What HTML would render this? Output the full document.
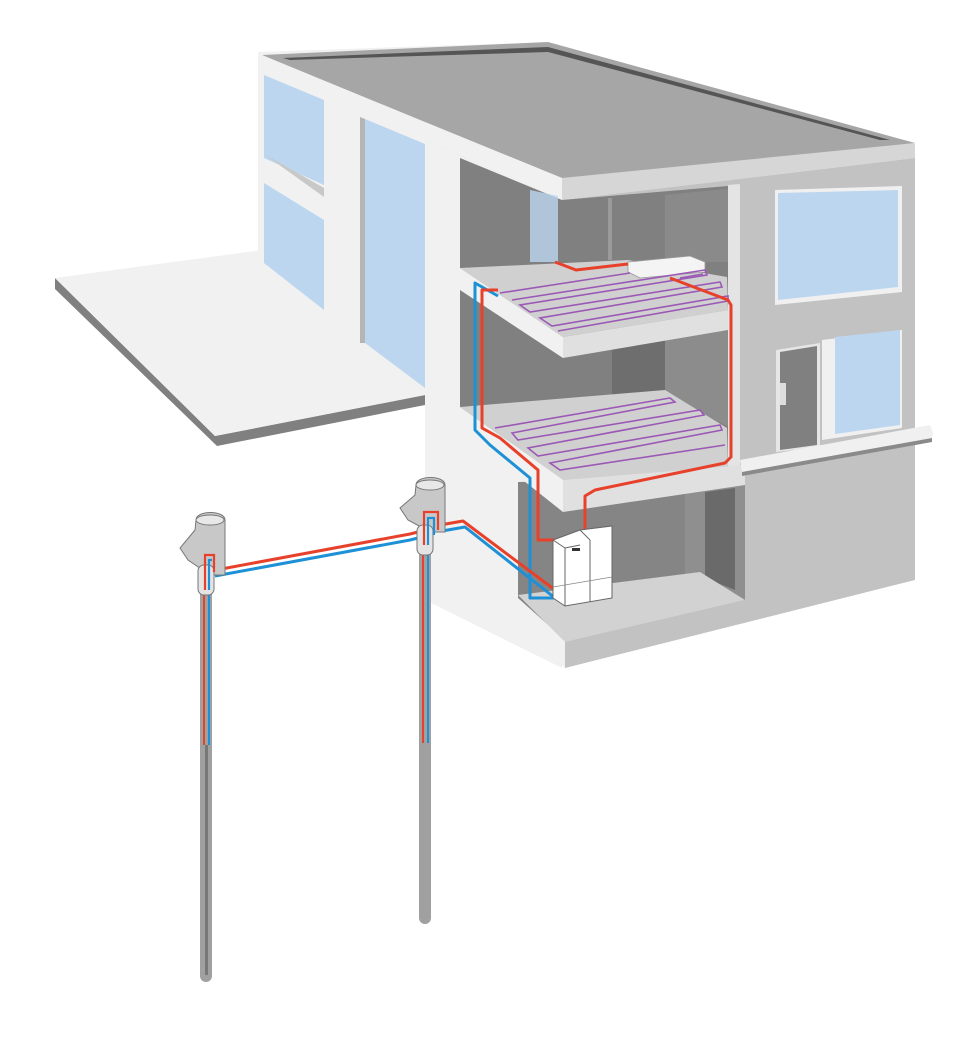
<!DOCTYPE html>
<html><head><meta charset="utf-8"><style>html,body{margin:0;padding:0;background:#fff}svg{display:block}</style></head>
<body>
<svg width="978" height="1056" viewBox="0 0 978 1056" xmlns="http://www.w3.org/2000/svg">
<!-- terrace -->
<polygon points="55,278 55,289 217,446 425,405 425,395 215,436" fill="#808080"/>
<polygon points="55,278 262,250 425,360 425,395 215,436" fill="#f1f1f1"/>
<!-- left facade -->
<polygon points="258,52 548,42 562,178 562,668 425,600 425,395 360,345 258,262" fill="#f1f1f1"/>
<polygon points="264,75 324,100 324,185 264,158" fill="#bcd6f0"/>
<polygon points="264,154 324,188 324,197" fill="#c8c8c8"/>
<polygon points="264,183 324,220 324,310 264,263" fill="#bcd6f0"/>
<polygon points="360,117 365,119 365,343 360,343" fill="#b5b5b5"/>
<polygon points="365,119 425,144 425,388 365,343" fill="#bcd6f0"/>
<!-- roof -->
<polygon points="262,55 548,42 915,143 562,185" fill="#a6a6a6"/>
<polygon points="283,58 548,47 890,140 880,140 548,52 290,60" fill="#555"/>
<polygon points="262,55 425,122 425,140 262,72" fill="#f1f1f1"/>
<polygon points="425,122 562,178 915,143 915,158 562,200 425,140" fill="#d6d6d6"/>
<polygon points="425,122 562,178 562,200 425,140" fill="#f1f1f1"/>
<!-- right facade -->
<polygon points="562,200 915,158 915,580 565,668" fill="#c2c2c2"/>
<!-- interior cut upper floors -->
<polygon points="460,158 562,200 740,185 740,470 460,430" fill="#808080"/>
<polygon points="530,190 558,196 558,262 530,262" fill="#bcd6f0" opacity="0.8"/>
<polygon points="608,198 612,198 612,260 608,260" fill="#9a9a9a"/>
<polygon points="665,195 735,188 735,262 665,262" fill="#8a8a8a"/>
<polygon points="612,340 665,340 665,395 612,395" fill="#6e6e6e"/>
<polygon points="665,335 735,330 735,430 665,395" fill="#8c8c8c"/>
<!-- ground floor room -->
<polygon points="518,482 745,478 745,600 565,640 518,598" fill="#858585"/>
<polygon points="685,488 745,480 745,600 700,575 685,575" fill="#8f8f8f"/>
<polygon points="705,492 735,488 735,590 705,578" fill="#6a6a6a"/>
<polygon points="518,595 700,572 745,600 565,642" fill="#d2d2d2"/>
<polygon points="518,600 565,642 565,668 518,618" fill="#f1f1f1"/>
<polygon points="565,642 745,600 745,612 565,668" fill="#c2c2c2"/>
<!-- columns on right face -->
<polygon points="728,185 740,184 740,470 728,472" fill="#e4e4e4"/>
<!-- upper slab -->
<polygon points="460,268 628,260 727,277 728,310 563,337" fill="#d0d0d0"/>
<polygon points="563,337 728,310 728,330 563,358" fill="#e0e0e0"/>
<polygon points="460,268 563,337 563,358 460,290" fill="#f1f1f1"/>
<!-- lower slab -->
<polygon points="460,407 665,390 727,428 728,467 563,480" fill="#d0d0d0"/>
<polygon points="563,480 745,465 745,485 563,512" fill="#e0e0e0"/>
<polygon points="460,407 563,480 563,512 460,430" fill="#f1f1f1"/>
<!-- right facade windows -->
<polygon points="775,190 902,186 902,292 775,305" fill="#f0f0f0"/>
<polygon points="778,193 898,190 898,287 778,300" fill="#bcd6f0"/>
<polygon points="776,350 820,343 820,447 776,452" fill="#e6e6e6"/>
<polygon points="780,352 817,346 817,445 780,450" fill="#808080"/>
<rect x="780" y="383" width="6" height="22" fill="#ddd"/>
<polygon points="822,340 902,330 902,428 822,440" fill="#f0f0f0"/>
<polygon points="835,337 900,330 900,425 835,434" fill="#bcd6f0"/>
<polygon points="740,460 930,425 933,433 932,438 742,472" fill="#f0f0f0"/>
<polygon points="742,472 932,438 932,442 742,476" fill="#8a8a8a"/>
<!-- radiator box -->
<polygon points="628,262 690,256 705,262 705,272 640,278 628,272" fill="#f4f4f4" stroke="#999" stroke-width="0.8"/>
<!-- underfloor heating upper -->
<g fill="none" stroke="#9b59b6" stroke-width="1.6">
<path d="M500,293 L630,273 M512,300 L705,270 L707,275 L520,305 L530,312 L720,282 L722,287 L540,318 L552,326 L728,296 L728,301 L558,331"/>
<path d="M680,278 L703,274"/>
</g>
<!-- underfloor heating lower -->
<g fill="none" stroke="#9b59b6" stroke-width="1.6">
<path d="M495,428 L670,398 L675,402 L512,433 L518,440 L700,410 L704,415 L528,448 L538,456 L720,425 L722,430 L550,463 L560,470 L725,445"/>
</g>
<!-- house pipes -->
<g fill="none" stroke-linejoin="round">
<path d="M498,296 L475,283 L475,430 L490,445 L530,478 L530,598 L556,598" stroke="#1e90d6" stroke-width="3"/>
<path d="M498,290 L482,290 L482,428 L500,438 L538,470 L538,540 L556,540" stroke="#e8412b" stroke-width="3"/>
<path d="M555,262 L576,270 L628,264" stroke="#e8412b" stroke-width="3"/>
<path d="M670,278 L728,300 L731,305 L731,457 L725,463 L595,490 L585,496 L585,535" stroke="#e8412b" stroke-width="3"/>
<path d="M442,531 L465,527 L555,598" stroke="#1e90d6" stroke-width="3"/>
<path d="M440,525 L463,521 L555,590" stroke="#e8412b" stroke-width="3"/>
</g>
<!-- heat pumps -->
<polygon points="553,540 580,530 612,526 612,598 565,606 553,598" fill="#fff" stroke="#666" stroke-width="1"/>
<line x1="580" y1="530" x2="590" y2="540" stroke="#666"/>
<line x1="590" y1="540" x2="590" y2="602" stroke="#666"/>
<line x1="565" y1="548" x2="565" y2="606" stroke="#666"/>
<line x1="553" y1="540" x2="565" y2="548" stroke="#666"/>
<line x1="565" y1="548" x2="580" y2="545" stroke="#666"/>
<line x1="553" y1="587" x2="612" y2="577" stroke="#888" stroke-width="0.7"/>
<rect x="572" y="548" width="8" height="3" fill="#333"/>
<!-- ground connection pipe -->
<g fill="none">
<path d="M215,576 L410,540 L418,538" stroke="#1e90d6" stroke-width="3"/>
<path d="M216,570 L410,534 L418,532" stroke="#e8412b" stroke-width="3"/>
</g>
<!-- rods -->
<g>
<rect x="200" y="585" width="12" height="397" rx="6" fill="#a0a0a0"/>
<rect x="203" y="595" width="2" height="150" fill="#e8412b"/>
<rect x="208" y="595" width="2" height="150" fill="#1e90d6"/>
<rect x="205" y="745" width="3" height="230" fill="#777"/>
<rect x="419" y="530" width="12" height="394" rx="6" fill="#a0a0a0"/>
<rect x="422" y="540" width="2" height="203" fill="#e8412b"/>
<rect x="427" y="540" width="2" height="203" fill="#1e90d6"/>
</g>
<!-- probe heads -->
<g stroke="#777" stroke-width="1">
<path d="M196,520 C196,510 225,510 225,520 L225,575 L210,575 L188,560 L180,548 L195,530 Z" fill="#c8c8c8"/>
<ellipse cx="210" cy="520" rx="14" ry="5" fill="#e8e8e8"/>
<rect x="198" y="565" width="16" height="30" rx="6" fill="#e4e4e4"/>
<path d="M416,485 C416,475 445,475 445,485 L445,532 L430,532 L408,520 L400,508 L415,495 Z" fill="#c8c8c8"/>
<ellipse cx="430" cy="485" rx="14" ry="5" fill="#e8e8e8"/>
<rect x="417" y="525" width="16" height="30" rx="6" fill="#e4e4e4"/>
</g>
<g fill="none" stroke-width="2.2">
<path d="M205,590 L205,555 L214,555 L214,572" stroke="#e8412b"/>
<path d="M209,590 L209,560 L212,560" stroke="#1e90d6"/>
<path d="M424,545 L424,512 L438,512 L438,530" stroke="#e8412b"/>
<path d="M428,545 L428,518 L434,518 L434,535" stroke="#1e90d6"/>
</g>
</svg>
</body></html>
